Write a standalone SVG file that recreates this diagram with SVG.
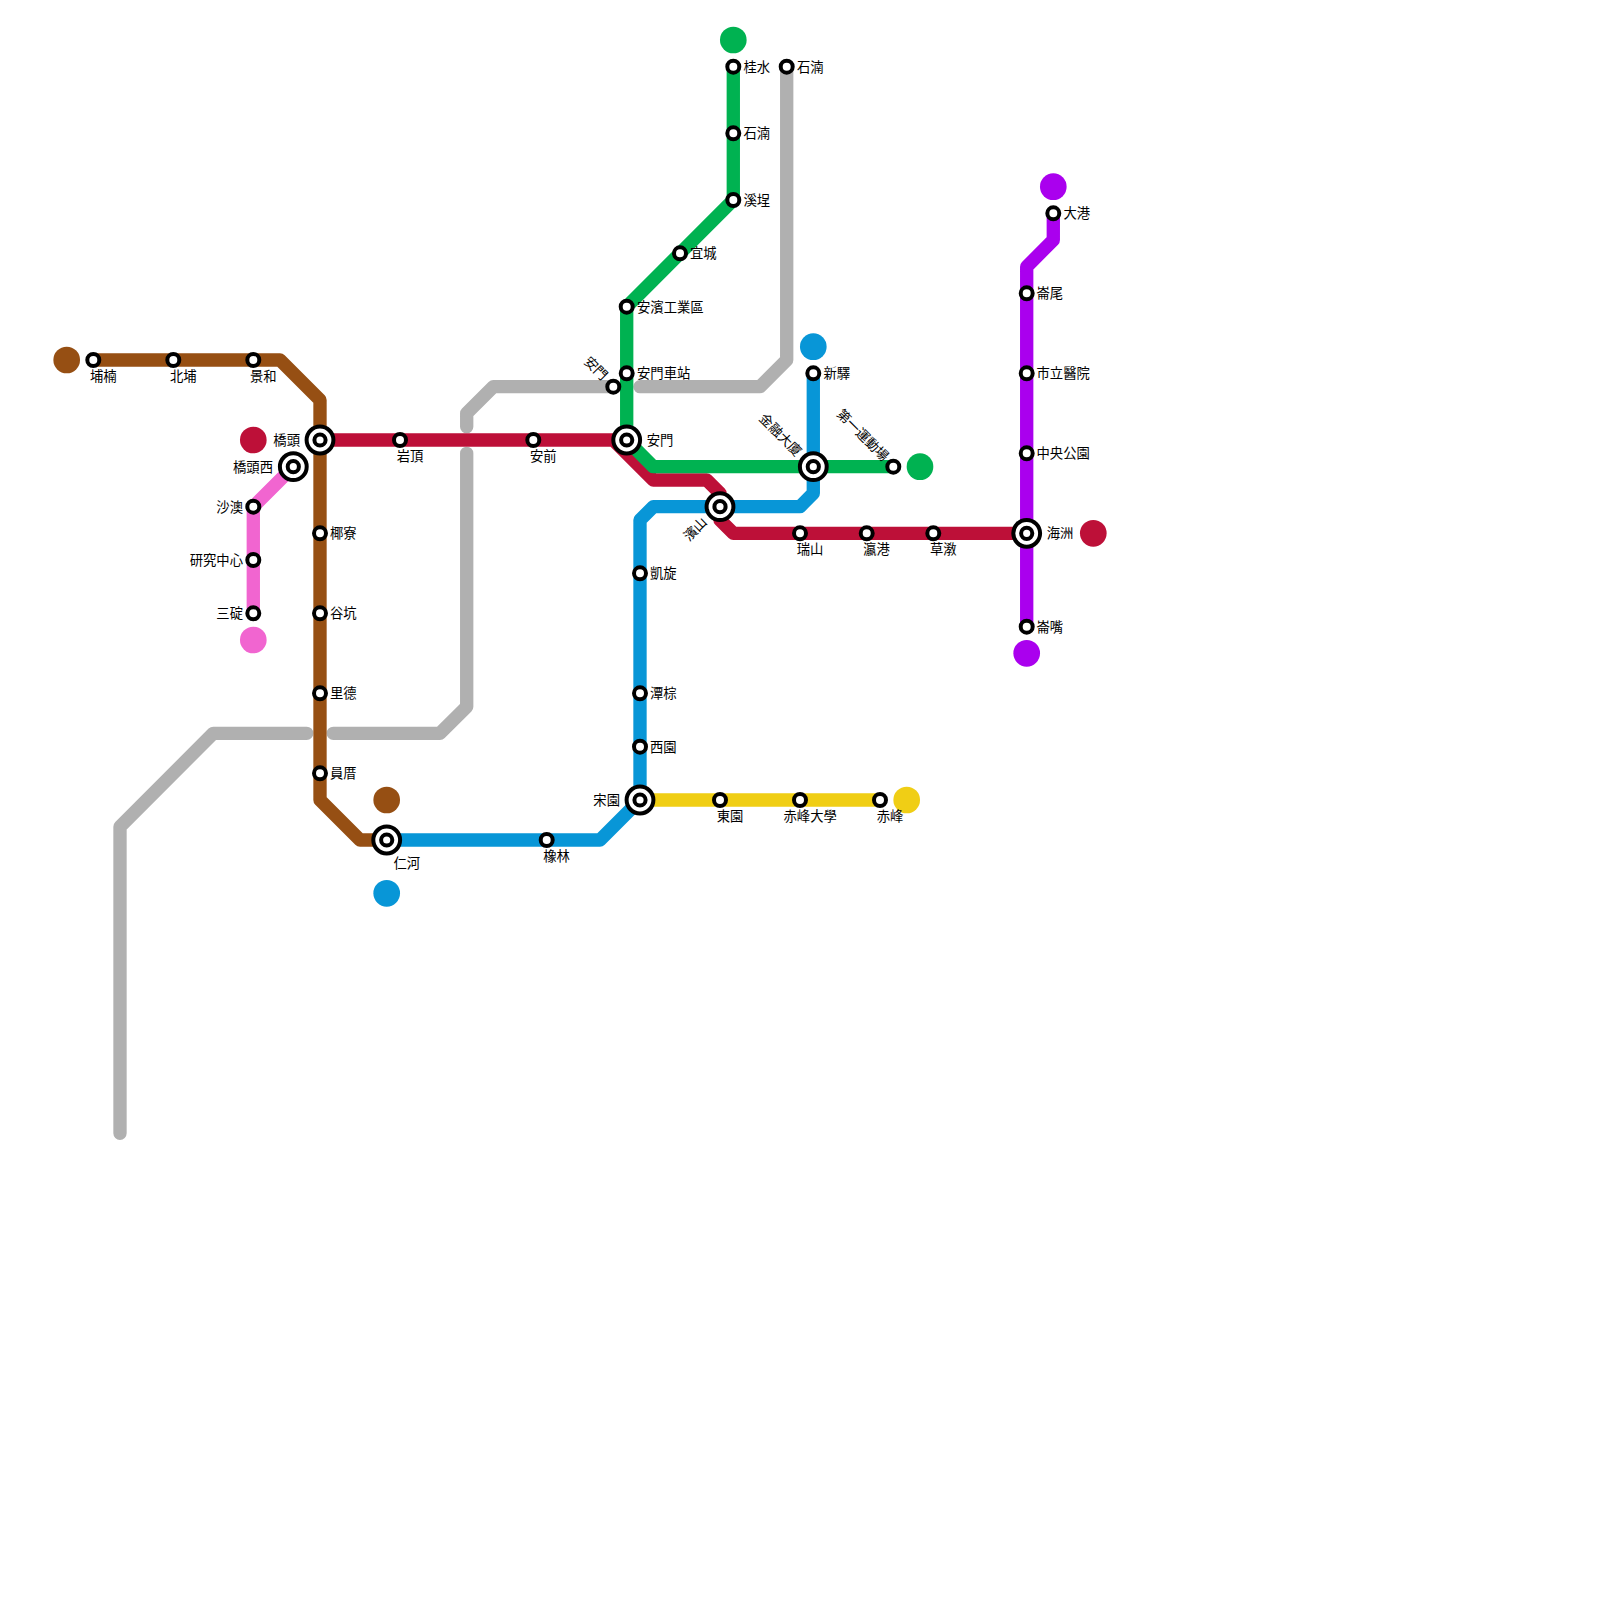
<svg xmlns="http://www.w3.org/2000/svg" width="1600" height="1600" viewBox="0 0 1600 1600">
<style>
.l{fill:none;stroke-width:13.33;stroke-linecap:round;stroke-linejoin:round}
.s{fill:#fff;stroke:#000;stroke-width:4}
text{font-family:"Noto Sans CJK JP","Noto Sans CJK TC",sans-serif;font-size:13.33px;fill:#000}
.e{text-anchor:end}
</style>
<defs>
<g id="st"><circle class="s" r="6"/></g>
<g id="ix"><circle class="s" r="13.4"/><circle class="s" r="5.6"/></g>
</defs>
<rect width="1600" height="1600" fill="#fff"/>
<g id="connectors">
<path class="l" stroke="#b0b0b0" d="M786.7 66.7V360L760 386.7H640"/>
<path class="l" stroke="#b0b0b0" d="M613.3 386.7H493.3L466.7 413.3V426.7"/>
<path class="l" stroke="#b0b0b0" d="M466.7 453.3V706.7L440 733.3H333.3"/>
<path class="l" stroke="#b0b0b0" d="M306.7 733.3H213.3L120 826.7V1133.3"/>
<path class="l" stroke="#964f13" d="M93.3 360H280L320 400V800L360 840H386.7"/>
<path class="l" stroke="#f165d0" d="M293.3 466.7L253.3 506.7V613.3"/>
<path class="l" stroke="#bd1038" d="M320 440H613.3L653.3 480H706.7L720 493.3V520L733.3 533.3H1026.7"/>
<path class="l" stroke="#00b251" d="M733.3 66.7V200L626.7 306.7V440L653.3 466.7H893.3"/>
<path class="l" stroke="#0896d7" d="M386.7 840H600L640 800V520L653.3 506.7H800L813.3 493.3V373.3"/>
<path class="l" stroke="#f0ce15" d="M640 800H880"/>
<path class="l" stroke="#aa00ee" d="M1053.3 213.3V240L1026.7 266.7V626.7"/>
</g>
<g id="terminals">
<circle cx="66.7" cy="360" r="13.33" fill="#964f13"/>
<circle cx="386.7" cy="800" r="13.33" fill="#964f13"/>
<circle cx="253.3" cy="440" r="13.33" fill="#bd1038"/>
<circle cx="1093.3" cy="533.3" r="13.33" fill="#bd1038"/>
<circle cx="253.3" cy="640" r="13.33" fill="#f165d0"/>
<circle cx="733.3" cy="40" r="13.33" fill="#00b251"/>
<circle cx="920" cy="466.7" r="13.33" fill="#00b251"/>
<circle cx="813.3" cy="346.7" r="13.33" fill="#0896d7"/>
<circle cx="386.7" cy="893.3" r="13.33" fill="#0896d7"/>
<circle cx="906.7" cy="800" r="13.33" fill="#f0ce15"/>
<circle cx="1053.3" cy="186.7" r="13.33" fill="#aa00ee"/>
<circle cx="1026.7" cy="653.3" r="13.33" fill="#aa00ee"/>
</g>
<g id="n1"><use href="#st" x="93.3" y="360"/><text x="90" y="381">埔楠</text></g>
<g id="n2"><use href="#st" x="173.3" y="360"/><text x="170" y="381">北埔</text></g>
<g id="n3"><use href="#st" x="253.3" y="360"/><text x="250" y="381">景和</text></g>
<g id="n4"><use href="#ix" x="320" y="440"/><text class="e" x="300" y="445">橋頭</text></g>
<g id="n5"><use href="#ix" x="293.3" y="466.7"/><text class="e" x="273" y="471.5">橋頭西</text></g>
<g id="n6"><use href="#st" x="253.3" y="506.7"/><text class="e" x="243" y="511.5">沙澳</text></g>
<g id="n7"><use href="#st" x="253.3" y="560"/><text class="e" x="243" y="565">研究中心</text></g>
<g id="n8"><use href="#st" x="253.3" y="613.3"/><text class="e" x="243" y="618">三碇</text></g>
<g id="n9"><use href="#st" x="320" y="533.3"/><text x="330" y="538">椰寮</text></g>
<g id="n10"><use href="#st" x="320" y="613.3"/><text x="330" y="618">谷坑</text></g>
<g id="n11"><use href="#st" x="320" y="693.3"/><text x="330" y="698">里德</text></g>
<g id="n12"><use href="#st" x="320" y="773.3"/><text x="330" y="778">員厝</text></g>
<g id="n13"><use href="#st" x="400" y="440"/><text x="396.7" y="461">岩頂</text></g>
<g id="n14"><use href="#st" x="533.3" y="440"/><text x="530" y="461">安前</text></g>
<g id="n15"><use href="#ix" x="386.7" y="840"/><text x="393.5" y="868">仁河</text></g>
<g id="n16"><use href="#st" x="546.7" y="840"/><text x="543.3" y="861">橡林</text></g>
<g id="n17"><use href="#ix" x="640" y="800"/><text class="e" x="620" y="805">宋園</text></g>
<g id="n18"><use href="#st" x="640" y="746.7"/><text x="650" y="751.5">西園</text></g>
<g id="n19"><use href="#st" x="640" y="693.3"/><text x="650" y="698">潭棕</text></g>
<g id="n20"><use href="#st" x="640" y="573.3"/><text x="650" y="578">凱旋</text></g>
<g id="n21"><use href="#ix" x="720" y="506.7"/><text class="e" transform="translate(708 523) rotate(-45)">濱山</text></g>
<g id="n22"><use href="#st" x="720" y="800"/><text x="716.7" y="821">東園</text></g>
<g id="n23"><use href="#st" x="800" y="800"/><text x="783.5" y="821">赤峰大學</text></g>
<g id="n24"><use href="#st" x="880" y="800"/><text x="876.7" y="821">赤峰</text></g>
<g id="n25"><use href="#st" x="613.3" y="386.7"/><text class="e" transform="translate(602 381) rotate(45)">安門</text></g>
<g id="n26"><use href="#st" x="626.7" y="373.3"/><text x="637" y="378">安門車站</text></g>
<g id="n27"><use href="#ix" x="626.7" y="440"/><text x="646.7" y="445">安門</text></g>
<g id="n28"><use href="#st" x="626.7" y="306.7"/><text x="637" y="311.5">安濱工業區</text></g>
<g id="n29"><use href="#st" x="680" y="253.3"/><text x="690" y="258">宜城</text></g>
<g id="n30"><use href="#st" x="733.3" y="200"/><text x="743.5" y="205">溪埕</text></g>
<g id="n31"><use href="#st" x="733.3" y="133.3"/><text x="743.5" y="138">石湳</text></g>
<g id="n32"><use href="#st" x="733.3" y="66.7"/><text x="743.5" y="71.5">桂水</text></g>
<g id="n33"><use href="#st" x="786.7" y="66.7"/><text x="797" y="71.5">石湳</text></g>
<g id="n34"><use href="#st" x="813.3" y="373.3"/><text x="823.5" y="378">新驛</text></g>
<g id="n35"><use href="#ix" x="813.3" y="466.7"/><text class="e" transform="translate(796 457) rotate(45)">金融大廈</text></g>
<g id="n36"><use href="#st" x="893.3" y="466.7"/><text class="e" transform="translate(883 462) rotate(45)">第一運動場</text></g>
<g id="n37"><use href="#st" x="800" y="533.3"/><text x="796.7" y="554">瑞山</text></g>
<g id="n38"><use href="#st" x="866.7" y="533.3"/><text x="863.3" y="554">瀛港</text></g>
<g id="n39"><use href="#st" x="933.3" y="533.3"/><text x="930" y="554">草漖</text></g>
<g id="n40"><use href="#ix" x="1026.7" y="533.3"/><text x="1046.7" y="538">海洲</text></g>
<g id="n41"><use href="#st" x="1026.7" y="626.7"/><text x="1036.5" y="631.5">崙嘴</text></g>
<g id="n42"><use href="#st" x="1026.7" y="453.3"/><text x="1036.5" y="458">中央公園</text></g>
<g id="n43"><use href="#st" x="1026.7" y="373.3"/><text x="1036.5" y="378">市立醫院</text></g>
<g id="n44"><use href="#st" x="1026.7" y="293.3"/><text x="1036.5" y="298">崙尾</text></g>
<g id="n45"><use href="#st" x="1053.3" y="213.3"/><text x="1063.5" y="218">大港</text></g>
</svg>
